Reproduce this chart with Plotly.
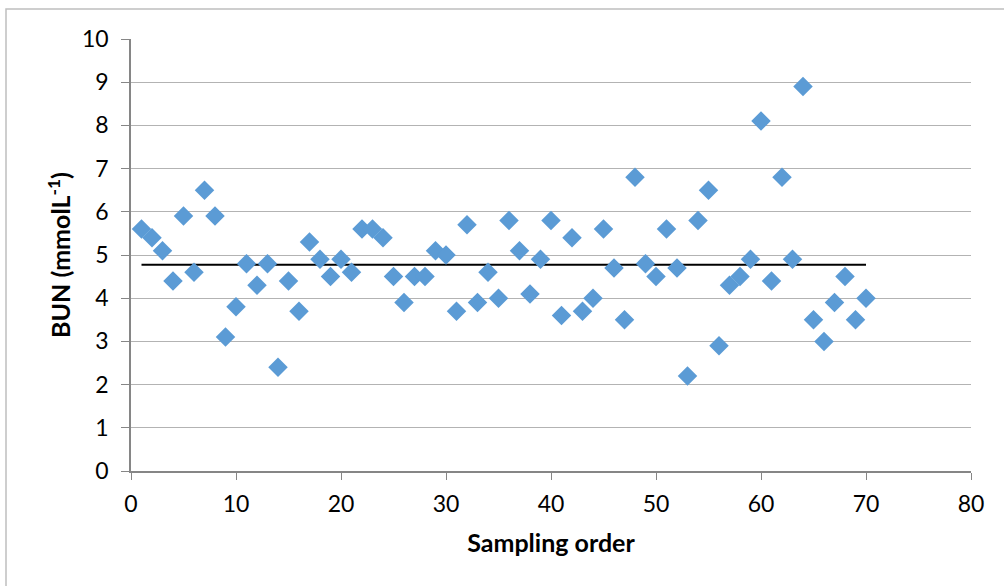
import plotly.graph_objects as go
import numpy as np

sampling_order = list(range(1, 71))
bun_values = [
    5.6, 5.4, 5.1, 4.4, 5.9, 4.6, 6.5, 5.9, 3.1, 3.8,
    4.8, 4.3, 4.8, 2.4, 4.4, 3.7, 5.3, 4.9, 4.5, 4.9,
    4.6, 5.6, 5.6, 5.4, 4.5, 3.9, 4.5, 4.5, 5.1, 5.0,
    3.7, 5.7, 3.9, 4.6, 4.0, 5.8, 5.1, 4.1, 4.9, 5.8,
    3.6, 5.4, 3.7, 4.0, 5.6, 4.7, 3.5, 6.8, 4.8, 4.5,
    5.6, 4.7, 2.2, 5.8, 6.5, 2.9, 4.3, 4.5, 4.9, 8.1,
    4.4, 6.8, 4.9, 8.9, 3.5, 3.0, 3.9, 4.5, 3.5, 4.0,
]
mean_value = float(np.mean(bun_values))
x_ticks = [0, 10, 20, 30, 40, 50, 60, 70, 80]
y_ticks = [0, 1, 2, 3, 4, 5, 6, 7, 8, 9, 10]

FONT = "Lato, 'Open Sans', sans-serif"

fig = go.Figure()
fig.add_trace(go.Scatter(
    x=[sampling_order[0], sampling_order[-1]],
    y=[mean_value, mean_value],
    mode="lines",
    line=dict(color="black", width=2),
    showlegend=False,
    hoverinfo="skip",
))
fig.add_trace(go.Scatter(
    x=sampling_order,
    y=bun_values,
    mode="markers",
    marker=dict(symbol="diamond", size=15, color="#5B9BD5", line=dict(width=0)),
    showlegend=False,
))

fig.update_layout(
    width=1004,
    height=586,
    margin=dict(l=131, r=33, t=39, b=115),
    paper_bgcolor="white",
    plot_bgcolor="white",
    font=dict(family=FONT, size=23, color="black"),
    shapes=[dict(
        type="rect", xref="paper", yref="paper",
        x0=(6 - 131) / 840, x1=(1010 - 131) / 840,
        y0=(471 - 600) / 432, y1=(471 - 9) / 432,
        line=dict(color="#BFBFBF", width=1.5),
        fillcolor="rgba(0,0,0,0)",
        layer="below",
    )],
)
fig.update_xaxes(
    range=[0, 80],
    tickvals=x_ticks,
    ticktext=[str(v) for v in x_ticks],
    showgrid=False,
    zeroline=False,
    showline=True,
    linecolor="#868686",
    linewidth=1.5,
    ticks="outside",
    ticklen=7,
    tickcolor="#868686",
    tickfont=dict(size=23),
    ticklabelstandoff=5,
    title=dict(text="<b>Sampling order</b>", font=dict(size=25), standoff=18),
)
fig.update_yaxes(
    range=[0, 10],
    tickvals=y_ticks,
    ticktext=[str(v) for v in y_ticks],
    showgrid=True,
    gridcolor="#B3B3B3",
    gridwidth=1,
    zeroline=False,
    showline=True,
    linecolor="#868686",
    linewidth=1.5,
    ticks="outside",
    ticklen=8,
    tickcolor="#868686",
    tickfont=dict(size=23),
    ticklabelstandoff=8,
    title=dict(text="<b>BUN (mmolL<sup>-1</sup>)</b>", font=dict(size=25), standoff=4),
)

fig.write_html("out.html", config={"displayModeBar": False},
               post_script="document.body.style.margin='0';")
